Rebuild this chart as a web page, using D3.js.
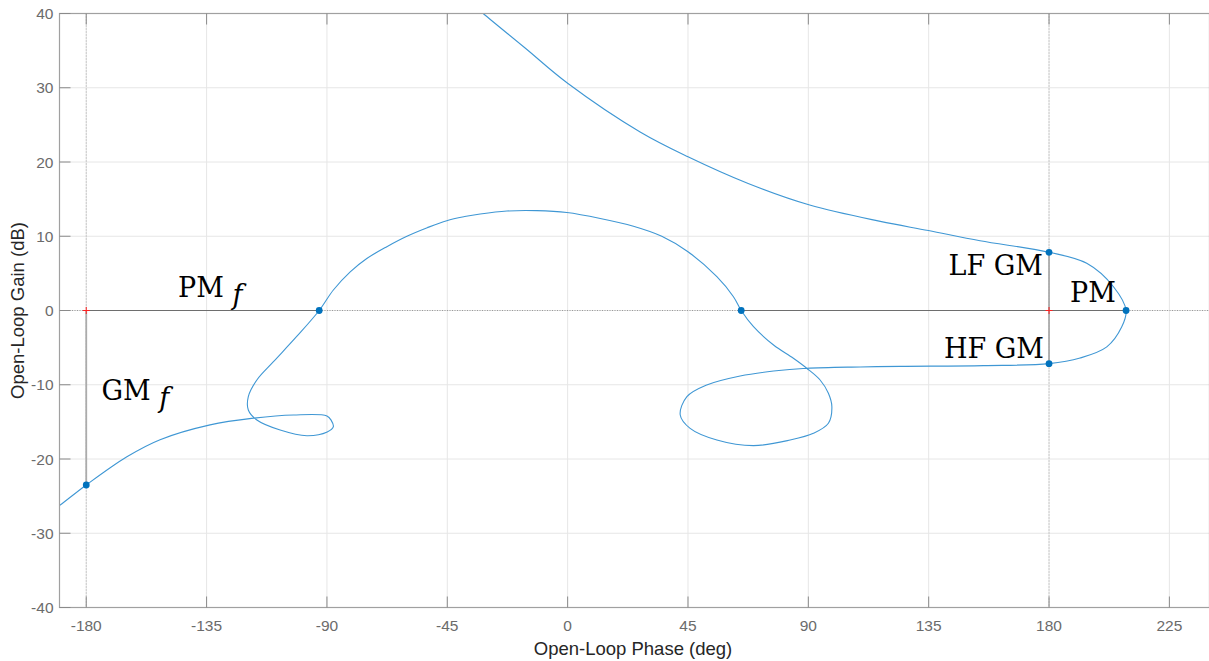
<!DOCTYPE html>
<html>
<head>
<meta charset="utf-8">
<script src="https://cdn.jsdelivr.net/npm/d3@7"></script>
<style>
  html, body { margin: 0; padding: 0; background: #fff; }
  svg { display: block; }
</style>
</head>
<body>
<svg id="chart" width="1209" height="661"></svg>
<script>
// Nichols plot: open-loop phase (deg) vs open-loop gain (dB), frequency-ordered
const phaseTicks = [-180, -135, -90, -45, 0, 45, 90, 135, 180, 225];
const gainTicks = [-40, -30, -20, -10, 0, 10, 20, 30, 40];

const phaseDeg = [
  -38, -31.6, -15.9, 0, 27.1, 45, 67.5, 90.5, 116.9, 134.9, 154.2, 180,
  194.1, 204.1, 208.8, 207.2, 201.6, 191.6, 180,
  155.5, 124.3, 109.4, 89.4, 77, 64.5, 52, 44.6, 42.1, 45.8, 55.8, 69.5, 83.2, 91.9,
  97.5, 98.8, 97.5, 94.4, 89.4, 84.4, 77, 69.5, 64.9,
  62, 55.8, 45, 35.2, 24.6, 12.2, -0.3, -11.5, -22.7, -32.7, -38.5, -45.2, -52.5, -60.1,
  -67.6, -75.1, -81.3, -87.6, -92.9,
  -101.3, -110, -116.2, -119.4, -119.4, -116.2, -107.5, -97.5, -89.9, -87.6, -88.4, -90.0,
  -102.5, -117.5, -133.7, -152.4, -164.8, -180, -189.75, -193
];
const gainDb = [
  42.0, 40.0, 35.35, 30.6, 24.04, 20.7, 17.1, 14.2, 12.0, 10.77, 9.4, 7.84,
  6.36, 3.2, 0, -2.2, -4.9, -6.4, -7.16,
  -7.42, -7.52, -7.6, -7.78, -8.15, -8.82, -10.03, -11.6, -14.07, -15.87, -17.44, -18.2, -17.44, -16.54,
  -15.19, -12.96, -11.15, -9.36, -7.78, -6.44, -4.65, -2.18, 0,
  1.86, 4.55, 7.92, 10.0, 11.35, 12.4, 13.2, 13.45, 13.4, 13.0, 12.65, 12.1, 11.15, 10.0,
  8.6, 7.0, 5.2, 2.76, 0,
  -3.5, -6.9, -9.36, -11.6, -13.4, -14.75, -16.1, -16.86, -16.36, -15.65, -14.8, -14.2,
  -14.07, -14.5, -15.4, -17.4, -19.7, -23.5, -26.2, -27.0
];

// Stability-margin points: crossings of 0 dB and of ±180°
const marginPhase = [-180, -92.9, 64.9, 208.8, 180, 180];
const marginGain = [-23.5, 0, 0, 0, 7.84, -7.16];

// Critical points (±180°, 0 dB)
const criticalPhase = [-180, 180];

const svg = d3.select("#chart");
const plotLeft = 59.5, plotRight = 1209.5, plotTop = 13.5, plotBottom = 607.5;

const x = d3.scaleLinear().domain([-190, 240]).range([plotLeft, plotRight]);
const y = d3.scaleLinear().domain([-40, 40]).range([plotBottom, plotTop]);

svg.append("defs").append("clipPath").attr("id", "plotClip")
  .append("rect").attr("x", plotLeft).attr("y", plotTop)
  .attr("width", plotRight - plotLeft).attr("height", plotBottom - plotTop);

// grid
const grid = svg.append("g");
grid.selectAll(".vg").data(phaseTicks).join("line")
  .attr("x1", d => x(d)).attr("x2", d => x(d))
  .attr("y1", plotTop).attr("y2", plotBottom)
  .attr("stroke", "#e6e6e6").attr("stroke-width", 1);
grid.selectAll(".hg").data(gainTicks).join("line")
  .attr("y1", d => y(d)).attr("y2", d => y(d))
  .attr("x1", plotLeft).attr("x2", plotRight)
  .attr("stroke", "#e6e6e6").attr("stroke-width", 1);

const plot = svg.append("g").attr("clip-path", "url(#plotClip)");

// dotted reference lines through the critical points
plot.selectAll(".vref").data(criticalPhase).join("line")
  .attr("x1", d => x(d)).attr("x2", d => x(d))
  .attr("y1", plotTop).attr("y2", plotBottom)
  .attr("stroke", "#a8a8a8").attr("stroke-width", 1)
  .attr("stroke-dasharray", "1,2");
plot.append("line")
  .attr("x1", plotLeft).attr("x2", plotRight)
  .attr("y1", y(0)).attr("y2", y(0))
  .attr("stroke", "#9a9a9a").attr("stroke-width", 1)
  .attr("stroke-dasharray", "1,1.5");

// phase-margin segments along 0 dB
const pmSegments = [[marginPhase[0], marginPhase[1]], [marginPhase[2], marginPhase[3]]];
plot.selectAll(".pm").data(pmSegments).join("line")
  .attr("x1", d => x(d[0])).attr("x2", d => x(d[1]))
  .attr("y1", y(0)).attr("y2", y(0))
  .attr("stroke", "#6e6e6e").attr("stroke-width", 1.1);

// gain-margin segments at ±180°
const gmSegments = [[-180, 0, marginGain[0]], [180, marginGain[4], marginGain[5]]];
plot.selectAll(".gm").data(gmSegments).join("line")
  .attr("x1", d => x(d[0])).attr("x2", d => x(d[0]))
  .attr("y1", d => y(d[1])).attr("y2", d => y(d[2]))
  .attr("stroke", "#ababab").attr("stroke-width", 1.8);

// red cross at the critical points
const cross = plot.selectAll(".crit").data(criticalPhase).join("g")
  .attr("transform", d => `translate(${x(d)},${y(0)})`);
cross.append("line").attr("x1", -3.5).attr("x2", 3.5).attr("y1", 0).attr("y2", 0)
  .attr("stroke", "#ff2020").attr("stroke-width", 1);
cross.append("line").attr("y1", -3.5).attr("y2", 3.5).attr("x1", 0).attr("x2", 0)
  .attr("stroke", "#ff2020").attr("stroke-width", 1);

// frequency response curve
const pts = phaseDeg.map((p, i) => [p, gainDb[i]]);
const line = d3.line()
  .x(d => x(d[0])).y(d => y(d[1]))
  .curve(d3.curveCatmullRom.alpha(0.5));
plot.append("path").datum(pts)
  .attr("d", line)
  .attr("fill", "none")
  .attr("stroke", "#3f97d4")
  .attr("stroke-width", 1.1);

// margin markers
plot.selectAll(".mk").data(marginPhase.map((p, i) => [p, marginGain[i]])).join("circle")
  .attr("cx", d => x(d[0])).attr("cy", d => y(d[1]))
  .attr("r", 3.4).attr("fill", "#0072bd");

// axes frame
const frame = svg.append("g");
frame.append("rect")
  .attr("x", plotLeft).attr("y", plotTop)
  .attr("width", plotRight - plotLeft).attr("height", plotBottom - plotTop)
  .attr("fill", "none").attr("stroke", "#a0a0a0").attr("stroke-width", 1.2);

// ticks (pointing inward) and tick labels
const axisFont = "'Liberation Sans', Arial, Helvetica, sans-serif";
frame.selectAll(".xtb").data(phaseTicks).join("line")
  .attr("x1", d => x(d)).attr("x2", d => x(d))
  .attr("y1", plotBottom).attr("y2", plotBottom - 11)
  .attr("stroke", "#8a8a8a").attr("stroke-width", 1);
frame.selectAll(".xtt").data(phaseTicks).join("line")
  .attr("x1", d => x(d)).attr("x2", d => x(d))
  .attr("y1", plotTop).attr("y2", plotTop + 11)
  .attr("stroke", "#8a8a8a").attr("stroke-width", 1);
frame.selectAll(".ytl").data(gainTicks).join("line")
  .attr("x1", plotLeft).attr("x2", plotLeft + 11)
  .attr("y1", d => y(d)).attr("y2", d => y(d))
  .attr("stroke", "#8a8a8a").attr("stroke-width", 1);

svg.append("g").selectAll("text").data(phaseTicks).join("text")
  .attr("x", d => x(d)).attr("y", 631)
  .attr("text-anchor", "middle")
  .attr("font-family", axisFont).attr("font-size", 15.5)
  .attr("fill", "#6b6b6b")
  .text(d => d);
svg.append("g").selectAll("text").data(gainTicks).join("text")
  .attr("x", 53.5).attr("y", d => y(d) + 5.5)
  .attr("text-anchor", "end")
  .attr("font-family", axisFont).attr("font-size", 15.5)
  .attr("fill", "#6b6b6b")
  .text(d => d);

// axis titles
svg.append("text")
  .attr("x", 633).attr("y", 655)
  .attr("text-anchor", "middle")
  .attr("font-family", axisFont).attr("font-size", 18.5)
  .attr("fill", "#262626")
  .text("Open-Loop Phase (deg)");
svg.append("text")
  .attr("transform", `translate(24,${y(0)}) rotate(-90)`)
  .attr("text-anchor", "middle")
  .attr("font-family", axisFont).attr("font-size", 18.5)
  .attr("fill", "#262626")
  .text("Open-Loop Gain (dB)");

// margin annotations
const serif = "'DejaVu Serif', 'Liberation Serif', serif";
const notes = [
  { label: "LF GM", sub: null, x: 1043, y: 275, anchor: "end" },
  { label: "HF GM", sub: null, x: 1044, y: 358, anchor: "end" },
  { label: "PM", sub: null, x: 1070, y: 301.5, anchor: "start" },
  { label: "PM ", sub: "f", x: 178, y: 296.5, anchor: "start" },
  { label: "GM ", sub: "f", x: 101.5, y: 400, anchor: "start" }
];
const noteG = svg.append("g");
notes.forEach(n => {
  const t = noteG.append("text")
    .attr("x", n.x).attr("y", n.y)
    .attr("text-anchor", n.anchor)
    .attr("font-family", serif).attr("font-size", 27)
    .attr("fill", "#000");
  t.append("tspan").text(n.label);
  if (n.sub) {
    t.append("tspan").attr("dy", 7).attr("font-style", "italic").text(n.sub);
  }
});
</script>
</body>
</html>
